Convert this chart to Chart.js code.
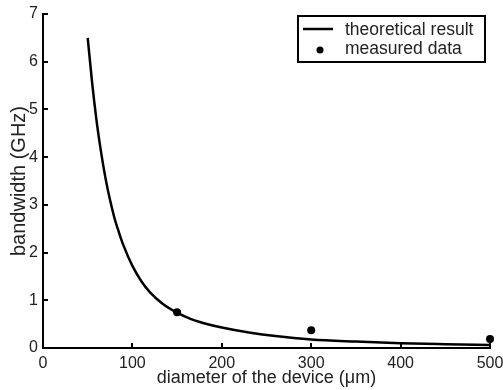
<!DOCTYPE html>
<html>
<head>
<meta charset="utf-8">
<script src="https://cdn.jsdelivr.net/npm/chart.js@4.4.0/dist/chart.umd.min.js"></script>
<style>
  html, body { margin: 0; padding: 0; background: #fff; }
  #wrap { width: 503px; height: 390px; }
</style>
</head>
<body>
<div id="wrap"><canvas id="c" width="503" height="390"></canvas></div>
<script>
// Theoretical bandwidth curve: device diameter (µm) vs bandwidth (GHz)
const theoryDiameter = [50, 55, 60, 65, 70, 75, 80, 85, 90, 100, 110, 120, 133, 150, 165, 180, 200, 232, 260, 300, 350, 400, 450, 500];
const theoryBandwidth = [6.5, 5.55, 4.75, 4.1, 3.55, 3.1, 2.72, 2.42, 2.15, 1.72, 1.4, 1.16, 0.94, 0.74, 0.61, 0.52, 0.43, 0.32, 0.25, 0.18, 0.135, 0.1, 0.08, 0.065];

// Measured devices
const measuredDiameter = [150, 300, 500];
const measuredBandwidth = [0.75, 0.37, 0.19];

// Axis ticks
const xTicks = [0, 100, 200, 300, 400, 500];
const yTicks = [0, 1, 2, 3, 4, 5, 6, 7];

const FONT = '"Liberation Sans", Arial, Helvetica, sans-serif';
const TEXT = '#222';

const toXY = (xs, ys) => xs.map((x, i) => ({ x: x, y: ys[i] }));

// Inward tick marks, MATLAB style
const inwardTicks = {
  id: 'inwardTicks',
  afterDraw(chart) {
    const { ctx, chartArea: a, scales: { x, y } } = chart;
    ctx.save();
    ctx.strokeStyle = '#000';
    ctx.lineWidth = 2;
    xTicks.forEach(v => {
      const px = Math.round(x.getPixelForValue(v));
      ctx.beginPath();
      ctx.moveTo(px, a.bottom);
      ctx.lineTo(px, a.bottom - 5);
      ctx.stroke();
    });
    yTicks.forEach(v => {
      const py = Math.round(y.getPixelForValue(v));
      ctx.beginPath();
      ctx.moveTo(a.left, py);
      ctx.lineTo(a.left + 5, py);
      ctx.stroke();
    });
    ctx.restore();
  }
};

// Boxed legend in the upper right corner
const boxLegend = {
  id: 'boxLegend',
  afterDraw(chart) {
    const { ctx } = chart;
    const ds = chart.data.datasets;
    const bx = 298, by = 16, bw = 187, bh = 46;
    ctx.save();
    ctx.fillStyle = '#fff';
    ctx.fillRect(bx, by, bw, bh);
    ctx.strokeStyle = '#000';
    ctx.lineWidth = 2;
    ctx.strokeRect(bx, by, bw, bh);
    ctx.font = '17.5px ' + FONT;
    ctx.fillStyle = TEXT;
    ctx.textBaseline = 'middle';
    ctx.textAlign = 'left';
    // line sample
    ctx.beginPath();
    ctx.lineWidth = 2.5;
    ctx.moveTo(303, 29);
    ctx.lineTo(333, 29);
    ctx.stroke();
    ctx.fillText(ds[0].label, 345, 30);
    // marker sample
    ctx.fillStyle = '#000';
    ctx.beginPath();
    ctx.arc(320, 50, 3.5, 0, Math.PI * 2);
    ctx.fill();
    ctx.fillStyle = TEXT;
    ctx.fillText(ds[1].label, 345, 49);
    ctx.restore();
  }
};

new Chart(document.getElementById('c'), {
  type: 'scatter',
  data: {
    datasets: [
      {
        label: 'theoretical result',
        data: toXY(theoryDiameter, theoryBandwidth),
        showLine: true,
        borderColor: '#000',
        borderWidth: 2.5,
        pointRadius: 0,
        cubicInterpolationMode: 'monotone',
        clip: false
      },
      {
        label: 'measured data',
        data: toXY(measuredDiameter, measuredBandwidth),
        showLine: false,
        pointStyle: 'circle',
        pointRadius: 4,
        backgroundColor: '#000',
        borderColor: '#000',
        borderWidth: 0,
        clip: false
      }
    ]
  },
  options: {
    responsive: false,
    animation: false,
    devicePixelRatio: 1,
    layout: { padding: { top: 14, right: 13, left: 0, bottom: 0 } },
    plugins: {
      legend: { display: false },
      tooltip: { enabled: false }
    },
    scales: {
      x: {
        type: 'linear',
        min: 0,
        max: 500,
        afterBuildTicks: s => { s.ticks = xTicks.map(v => ({ value: v })); },
        afterFit: s => { s.height = 42; s.paddingLeft = 0; s.paddingRight = 0; },
        grid: { display: false, drawTicks: false },
        border: { display: true, color: '#000', width: 2 },
        ticks: { color: TEXT, font: { family: FONT, size: 16 }, padding: 6, maxRotation: 0 },
        title: { display: true, text: 'diameter of the device (\u03bcm)', color: TEXT, font: { family: FONT, size: 18 }, padding: { top: 0, bottom: 1 } }
      },
      y: {
        type: 'linear',
        min: 0,
        max: 7,
        afterBuildTicks: s => { s.ticks = yTicks.map(v => ({ value: v })); },
        afterFit: s => { s.width = 43; s.paddingTop = 0; s.paddingBottom = 0; },
        grid: { display: false, drawTicks: false },
        border: { display: true, color: '#000', width: 2 },
        ticks: { color: TEXT, font: { family: FONT, size: 16 }, padding: 5 },
        title: { display: true, text: 'bandwidth (GHz)', color: TEXT, font: { family: FONT, size: 20 }, padding: { top: 7, bottom: 0 } }
      }
    }
  },
  plugins: [inwardTicks, boxLegend]
});
</script>
</body>
</html>
